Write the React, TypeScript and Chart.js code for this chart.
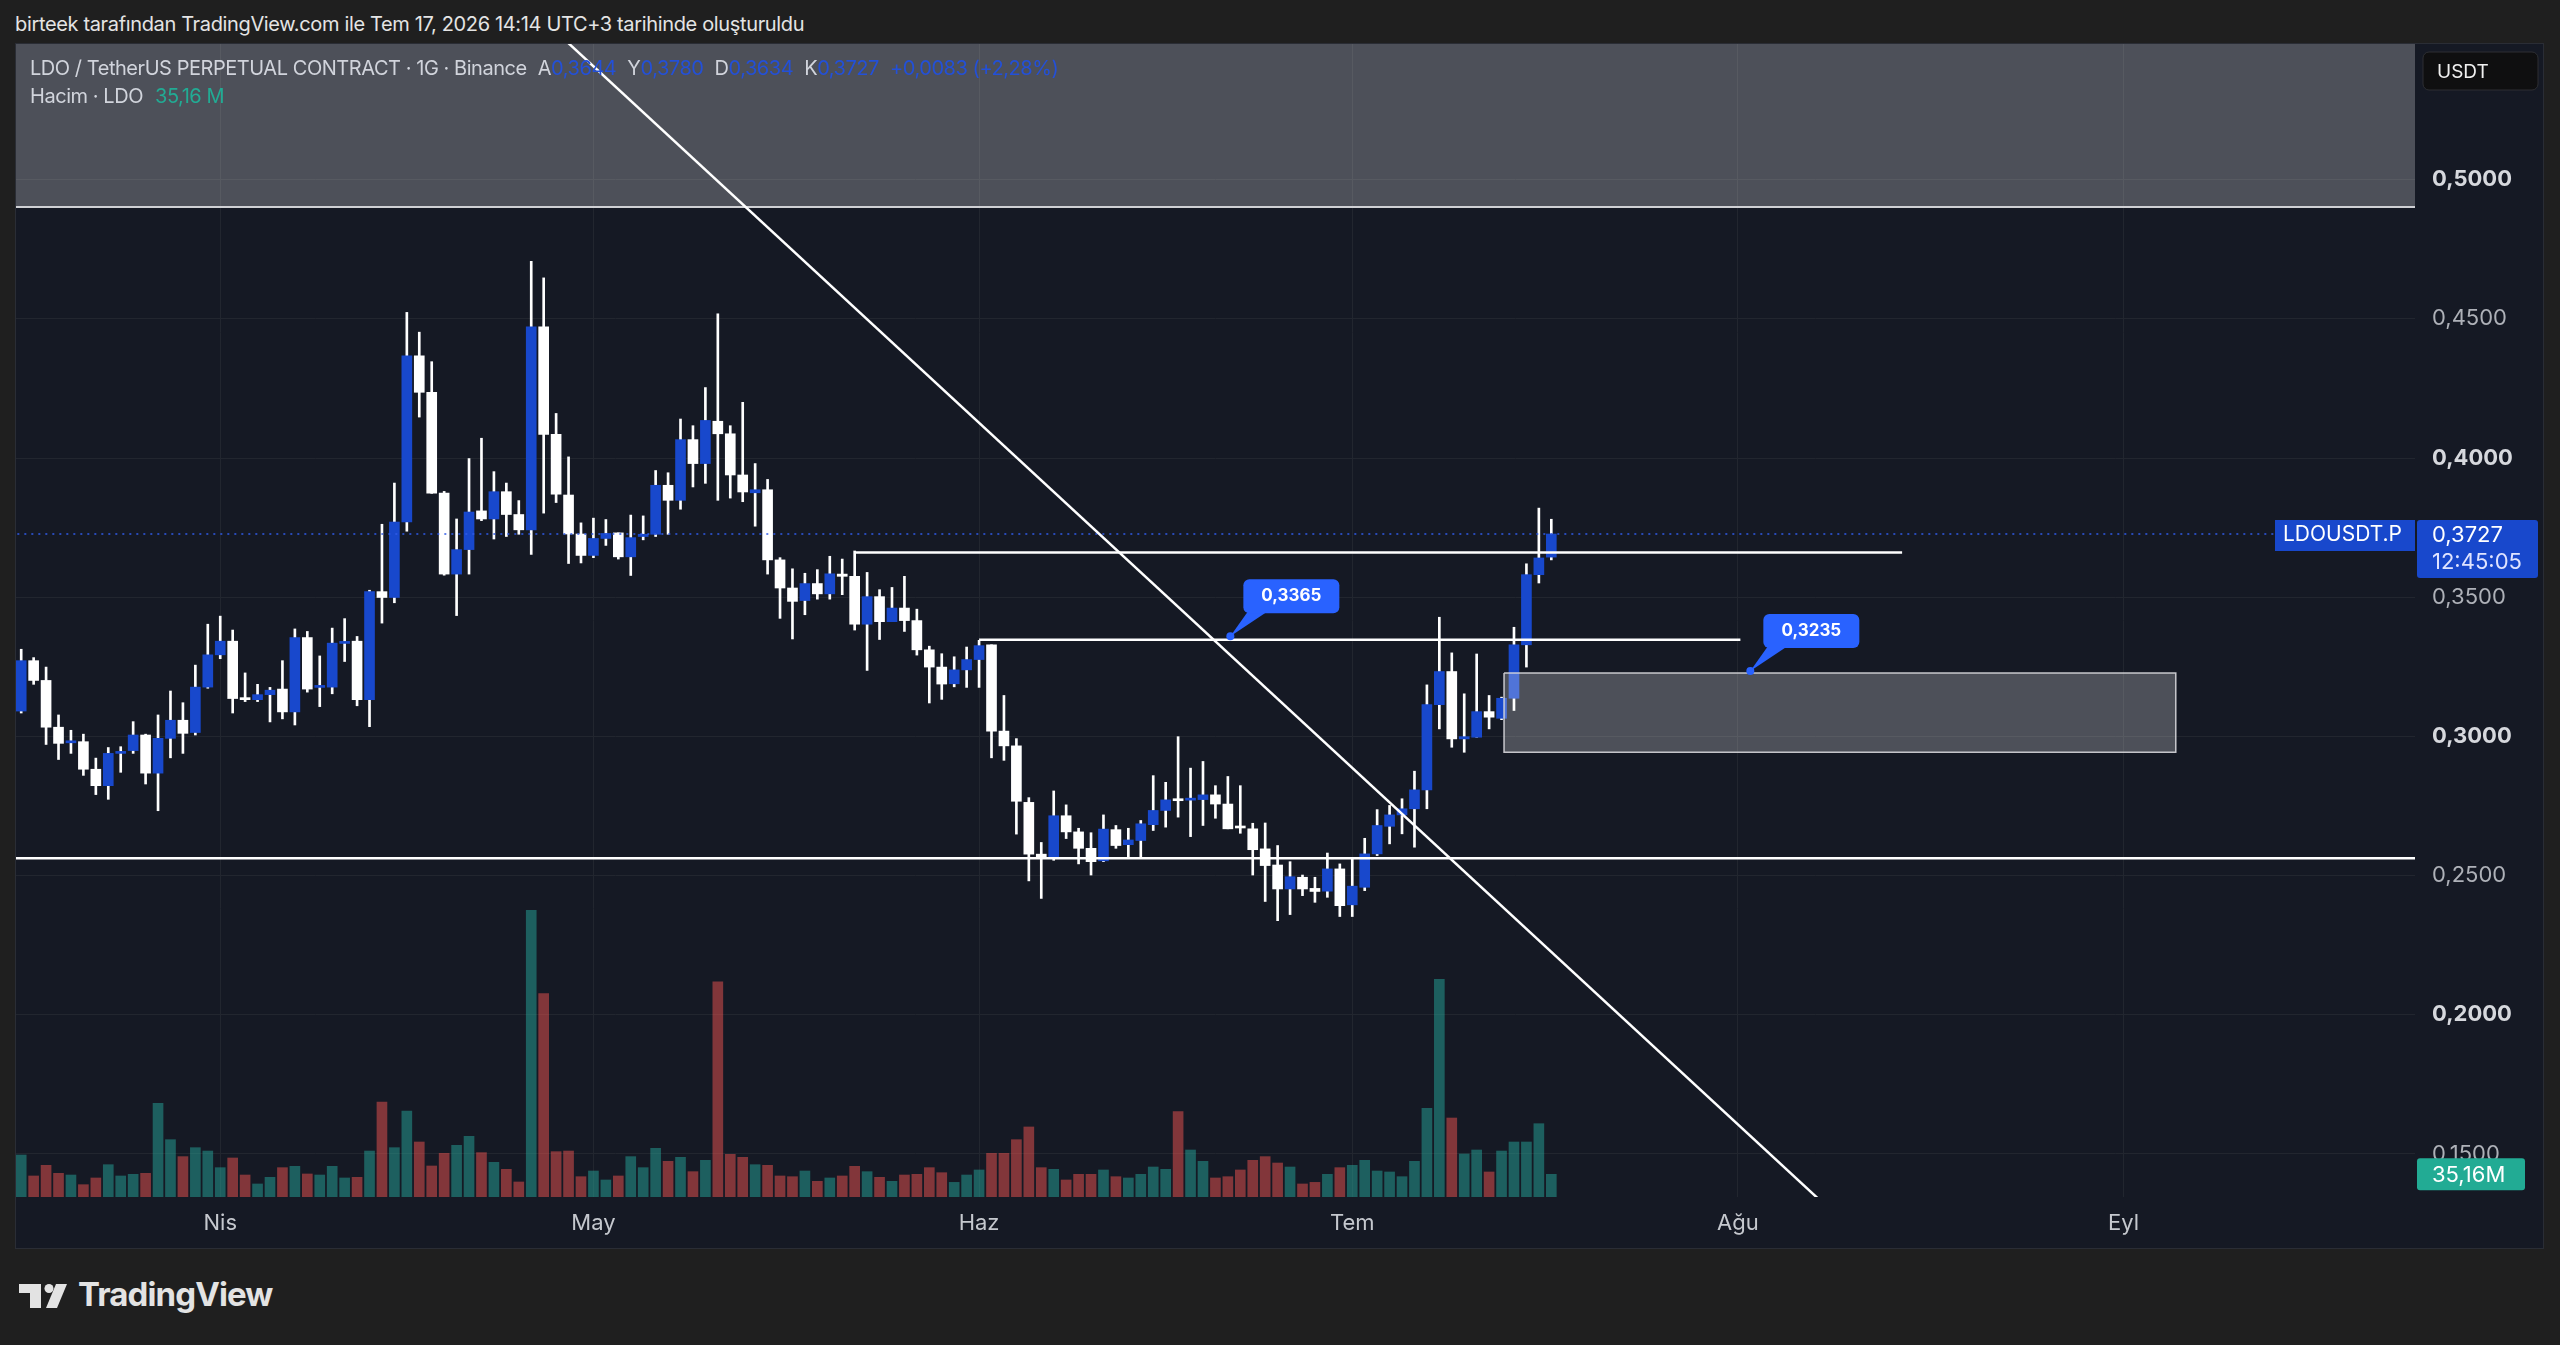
import React, { useEffect, useRef } from 'react';
import { Chart, registerables } from 'chart.js';

Chart.register(...registerables);

// ---- Daily candles (index 0 = 16 Mar 2026, index 123 = 17 Jul 2026) ----
const opens = [
  0.3091, 0.3272, 0.3201, 0.3033, 0.2977, 0.2981, 0.2882, 0.2823, 0.2939, 0.2949,
  0.3005, 0.2868, 0.2993, 0.3058, 0.3014, 0.3177, 0.3293, 0.3342, 0.3139, 0.3132,
  0.3150, 0.3170, 0.3088, 0.3355, 0.3176, 0.3177, 0.3334, 0.3342, 0.3132, 0.3520,
  0.3499, 0.3770, 0.4367, 0.4236, 0.3874, 0.3583, 0.3671, 0.3810, 0.3781, 0.3879,
  0.3797, 0.3742, 0.4471, 0.4085, 0.3867, 0.3727, 0.3650, 0.3711, 0.3731, 0.3645,
  0.3718, 0.3726, 0.3902, 0.3848, 0.4066, 0.3980, 0.4132, 0.4087, 0.3939, 0.3875,
  0.3886, 0.3634, 0.3533, 0.3488, 0.3549, 0.3512, 0.3583, 0.3575, 0.3403, 0.3502,
  0.3412, 0.3461, 0.3416, 0.3311, 0.3249, 0.3189, 0.3239, 0.3276, 0.3329, 0.3019,
  0.2966, 0.2763, 0.2577, 0.2563, 0.2715, 0.2657, 0.2598, 0.2553, 0.2665, 0.2611,
  0.2626, 0.2683, 0.2734, 0.2775, 0.2771, 0.2773, 0.2790, 0.2757, 0.2676, 0.2668,
  0.2596, 0.2538, 0.2452, 0.2494, 0.2454, 0.2444, 0.2524, 0.2395, 0.2458, 0.2578,
  0.2677, 0.2718, 0.2740, 0.2808, 0.3114, 0.3233, 0.2991, 0.2997, 0.3089, 0.3065,
  0.3137, 0.3329, 0.3581, 0.3644,
];
const highs = [
  0.3313, 0.3283, 0.3249, 0.3077, 0.3022, 0.3008, 0.2922, 0.2960, 0.2963, 0.3053,
  0.3008, 0.3077, 0.3163, 0.3121, 0.3256, 0.3403, 0.3432, 0.3382, 0.3228, 0.3187,
  0.3176, 0.3272, 0.3386, 0.3377, 0.3289, 0.3389, 0.3423, 0.3359, 0.3525, 0.3762,
  0.3910, 0.4523, 0.4452, 0.4346, 0.3880, 0.3781, 0.3998, 0.4071, 0.3951, 0.3910,
  0.3847, 0.4706, 0.4647, 0.4160, 0.4004, 0.3767, 0.3784, 0.3779, 0.3731, 0.3795,
  0.3792, 0.3955, 0.3947, 0.4140, 0.4116, 0.4253, 0.4518, 0.4116, 0.4200, 0.3980,
  0.3923, 0.3642, 0.3602, 0.3586, 0.3599, 0.3647, 0.3637, 0.3666, 0.3589, 0.3527,
  0.3535, 0.3575, 0.3457, 0.3324, 0.3297, 0.3286, 0.3321, 0.3345, 0.3329, 0.3147,
  0.2992, 0.2780, 0.2619, 0.2804, 0.2754, 0.2670, 0.2654, 0.2718, 0.2680, 0.2670,
  0.2698, 0.2859, 0.2835, 0.2999, 0.2886, 0.2910, 0.2823, 0.2856, 0.2823, 0.2688,
  0.2689, 0.2608, 0.2550, 0.2502, 0.2494, 0.2581, 0.2542, 0.2560, 0.2634, 0.2737,
  0.2752, 0.2776, 0.2875, 0.3185, 0.3428, 0.3300, 0.3153, 0.3296, 0.3147, 0.3141,
  0.3392, 0.3620, 0.3820, 0.3780,
];
const lows = [
  0.3084, 0.3187, 0.2971, 0.2917, 0.2939, 0.2860, 0.2791, 0.2774, 0.2871, 0.2939,
  0.2829, 0.2733, 0.2923, 0.2939, 0.3005, 0.3173, 0.3279, 0.3084, 0.3125, 0.3125,
  0.3052, 0.3063, 0.3041, 0.3159, 0.3107, 0.3153, 0.3269, 0.3110, 0.3035, 0.3407,
  0.3480, 0.3737, 0.4147, 0.3873, 0.3579, 0.3434, 0.3583, 0.3775, 0.3709, 0.3718,
  0.3726, 0.3654, 0.3802, 0.3840, 0.3621, 0.3623, 0.3642, 0.3686, 0.3637, 0.3578,
  0.3706, 0.3718, 0.3726, 0.3816, 0.3896, 0.3909, 0.3848, 0.3856, 0.3843, 0.3755,
  0.3583, 0.3424, 0.3350, 0.3437, 0.3493, 0.3493, 0.3509, 0.3382, 0.3237, 0.3348,
  0.3412, 0.3377, 0.3292, 0.3120, 0.3133, 0.3178, 0.3176, 0.3176, 0.2923, 0.2914,
  0.2649, 0.2481, 0.2418, 0.2555, 0.2633, 0.2542, 0.2502, 0.2550, 0.2598, 0.2566,
  0.2566, 0.2662, 0.2674, 0.2710, 0.2640, 0.2680, 0.2706, 0.2668, 0.2652, 0.2502,
  0.2407, 0.2338, 0.2360, 0.2428, 0.2404, 0.2422, 0.2353, 0.2353, 0.2446, 0.2572,
  0.2614, 0.2650, 0.2602, 0.2740, 0.3027, 0.2961, 0.2943, 0.2997, 0.3027, 0.3060,
  0.3093, 0.3249, 0.3551, 0.3634,
];
const closes = [
  0.3272, 0.3201, 0.3033, 0.2975, 0.2981, 0.2882, 0.2823, 0.2939, 0.2945, 0.3005,
  0.2868, 0.2993, 0.3058, 0.3011, 0.3177, 0.3293, 0.3342, 0.3136, 0.3132, 0.3150,
  0.3166, 0.3088, 0.3355, 0.3170, 0.3179, 0.3335, 0.3339, 0.3132, 0.3520, 0.3499,
  0.3770, 0.4367, 0.4236, 0.3874, 0.3583, 0.3671, 0.3806, 0.3781, 0.3879, 0.3797,
  0.3742, 0.4471, 0.4085, 0.3870, 0.3727, 0.3650, 0.3711, 0.3729, 0.3645, 0.3714,
  0.3726, 0.3902, 0.3848, 0.4066, 0.3980, 0.4135, 0.4087, 0.3939, 0.3878, 0.3886,
  0.3634, 0.3533, 0.3485, 0.3549, 0.3512, 0.3584, 0.3575, 0.3403, 0.3502, 0.3412,
  0.3461, 0.3416, 0.3311, 0.3249, 0.3188, 0.3239, 0.3276, 0.3326, 0.3019, 0.2966,
  0.2767, 0.2577, 0.2566, 0.2715, 0.2657, 0.2598, 0.2550, 0.2667, 0.2608, 0.2628,
  0.2686, 0.2734, 0.2772, 0.2769, 0.2775, 0.2790, 0.2757, 0.2668, 0.2671, 0.2593,
  0.2536, 0.2452, 0.2496, 0.2452, 0.2443, 0.2524, 0.2392, 0.2462, 0.2578, 0.2680,
  0.2718, 0.2740, 0.2808, 0.3114, 0.3233, 0.2991, 0.2999, 0.3089, 0.3069, 0.3137,
  0.3329, 0.3581, 0.3641, 0.3727,
];
// volume in millions LDO
const volumes = [
  65.1, 32.6, 49.1, 36.7, 34.1, 19.1, 29.5, 50.1, 32.6, 35.2,
  36.7, 145.3, 88.9, 62.6, 76.5, 71.3, 45.5, 60.5, 34.1, 20.2,
  30.5, 45.5, 47.6, 35.7, 34.1, 47.6, 29.5, 30.5, 71.3, 147.3,
  76.5, 133.4, 85.3, 48.1, 67.7, 80.1, 94.1, 68.8, 53.8, 42.9,
  23.3, 444.6, 315.4, 70.3, 71.3, 31.5, 40.3, 26.4, 32.6, 62.6,
  45.5, 75.5, 55.3, 61.5, 39.3, 56.9, 333.5, 66.2, 61.5, 50.1,
  49.1, 32.6, 31.5, 40.3, 24.3, 29.5, 32.6, 47.6, 39.3, 30.5,
  24.3, 34.1, 35.2, 45.5, 37.7, 22.7, 34.1, 41.9, 67.7, 67.7,
  88.9, 108.6, 45.5, 42.9, 26.4, 35.2, 35.2, 41.9, 31.5, 29.5,
  35.2, 46.5, 42.9, 132.4, 72.9, 55.3, 29.5, 31.5, 41.9, 56.9,
  62.6, 52.7, 46.5, 20.2, 22.7, 35.2, 45.5, 49.1, 56.9, 40.3,
  38.8, 31.5, 55.3, 137.5, 337.6, 122.5, 66.7, 72.9, 38.8, 71.3,
  85.3, 85.3, 113.7, 35.16,
];

// time axis: day index of each month start
const monthTicks = [16, 46, 77, 107, 138, 169];
const monthLabels = ['Nis', 'May', 'Haz', 'Tem', 'Ağu', 'Eyl'];
// price axis ticks
const priceTicks = [0.15, 0.2, 0.25, 0.3, 0.35, 0.4, 0.45, 0.5];

// drawings (day index / price)
const trendX = [40, 145];
const trendY = [0.5655, 0.1317];
const supportLevel = 0.2562;
const resistA = { x0: 67, x1: 151.2, y: 0.3661 };
const resistB = { x0: 77, x1: 138.2, y: 0.3347 };
const zoneBox = { x0: 119.2, x1: 173.2, top: 0.3228, bottom: 0.2943 };
const topZoneBottom = 0.4902;
const lastPrice = 0.3727;
const lastVolume = 35.16;
const callouts = [
  { x: 97.2, y: 0.336, text: '0,3365' },
  { x: 139.0, y: 0.3235, text: '0,3235' },
];

const X_MIN = -0.418;
const X_MAX = 192.43;
const Y_MIN = 0.13455;
const Y_MAX = 0.54871;
const V_MAX = 1788;

const UP = '#1848cc';
const DOWN = '#ffffff';
const VOL_UP = 'rgba(38,166,154,0.5)';
const VOL_DOWN = 'rgba(239,83,80,0.5)';
const GRID = '#22262f';
const FONT = 'Inter, "Noto Sans", sans-serif';

const fmt = (v: number) => v.toFixed(4).replace('.', ',');
const isMajor = (c: any) => !!(c && c.tick && Math.round(c.tick.value * 100) % 10 === 0);

export default function App() {
  const ref = useRef<HTMLCanvasElement | null>(null);

  useEffect(() => {
    const canvas = ref.current;
    if (!canvas) return;
    const isUp = closes.map((c, i) => c >= opens[i]);
    const rect = (x0: number, x1: number, y0: number, y1: number) => [
      { x: x0, y: y0 }, { x: x1, y: y0 }, { x: x1, y: y1 }, { x: x0, y: y1 }, { x: x0, y: y0 },
    ];
    const lineDs = (data: any[], color: string, width: number, order: number, extra: any = {}) => ({
      type: 'line',
      data,
      borderColor: color,
      borderWidth: width,
      pointRadius: 0,
      tension: 0,
      fill: false,
      order,
      yAxisID: 'y',
      ...extra,
    });

    const rr = (ctx: CanvasRenderingContext2D, x: number, y: number, w: number, h: number, r: number) => {
      ctx.beginPath();
      ctx.moveTo(x + r, y);
      ctx.lineTo(x + w - r, y);
      ctx.arcTo(x + w, y, x + w, y + r, r);
      ctx.lineTo(x + w, y + h - r);
      ctx.arcTo(x + w, y + h, x + w - r, y + h, r);
      ctx.lineTo(x + r, y + h);
      ctx.arcTo(x, y + h, x, y + h - r, r);
      ctx.lineTo(x, y + r);
      ctx.arcTo(x, y, x + r, y, r);
      ctx.closePath();
    };

    const overlay = {
      id: 'overlay',
      afterDraw(chart: any) {
        const ctx: CanvasRenderingContext2D = chart.ctx;
        const xs = chart.scales.x;
        const ys = chart.scales.y;
        const vs = chart.scales.yv;
        const area = chart.chartArea;
        ctx.save();
        callouts.forEach((c) => {
          const px = xs.getPixelForValue(c.x);
          const py = ys.getPixelForValue(c.y);
          ctx.fillStyle = '#2962ff';
          ctx.beginPath();
          ctx.arc(px, py, 4, 0, Math.PI * 2);
          ctx.fill();
          ctx.beginPath();
          ctx.moveTo(px, py);
          ctx.lineTo(px + 17, py - 24);
          ctx.lineTo(px + 36, py - 24);
          ctx.closePath();
          ctx.fill();
          rr(ctx, px + 13, py - 57, 96, 34, 6);
          ctx.fill();
          ctx.fillStyle = '#ffffff';
          ctx.font = `700 17px ${FONT}`;
          ctx.textAlign = 'center';
          ctx.textBaseline = 'middle';
          ctx.fillText(c.text, px + 61, py - 40);
        });
        const lp = ys.getPixelForValue(lastPrice);
        ctx.fillStyle = UP;
        ctx.fillRect(area.right - 140, lp - 14, 140, 31);
        rr(ctx, area.right + 2, lp - 14, 121, 58, 3);
        ctx.fill();
        ctx.fillStyle = '#ffffff';
        ctx.textAlign = 'left';
        ctx.textBaseline = 'middle';
        ctx.font = `400 21px ${FONT}`;
        ctx.fillText('LDOUSDT.P', area.right - 132, lp + 1);
        ctx.font = `400 22px ${FONT}`;
        ctx.fillText(fmt(lastPrice), area.right + 17, lp + 1);
        ctx.fillStyle = '#dfe3ff';
        ctx.fillText('12:45:05', area.right + 17, lp + 28);
        const vp = vs.getPixelForValue(lastVolume);
        ctx.fillStyle = '#22ab94';
        rr(ctx, area.right + 2, vp - 16, 108, 32, 3);
        ctx.fill();
        ctx.fillStyle = '#ffffff';
        ctx.fillText(lastVolume.toFixed(2).replace('.', ',') + 'M', area.right + 17, vp + 1);
        ctx.fillStyle = '#0f0f10';
        rr(ctx, area.right + 8, 8, 115, 38, 6);
        ctx.fill();
        ctx.strokeStyle = '#2e2f33';
        ctx.lineWidth = 1;
        ctx.stroke();
        ctx.fillStyle = '#f0f0f0';
        ctx.font = `400 19px ${FONT}`;
        ctx.fillText('USDT', area.right + 22, 28);
        ctx.restore();
      },
    };

    let chart: any = null;
    try {
      chart = new Chart(canvas, {
        type: 'bar',
        data: {
          datasets: [
            {
              type: 'bar',
              label: 'volume',
              yAxisID: 'yv',
              data: volumes.map((v, i) => ({ x: i, y: v })),
              backgroundColor: isUp.map((u) => (u ? VOL_UP : VOL_DOWN)),
              barThickness: 10,
              grouped: false,
              order: 20,
            },
            lineDs(rect(-2, 195, topZoneBottom, 0.7), 'rgba(0,0,0,0)', 0, 19, {
              fill: 'shape',
              backgroundColor: 'rgba(255,255,255,0.245)',
            }),
            {
              type: 'bar',
              label: 'wicks',
              yAxisID: 'y',
              data: lows.map((l, i) => ({ x: i, y: [l, highs[i]] })),
              backgroundColor: '#ffffff',
              barThickness: 2,
              grouped: false,
              order: 18,
            },
            {
              type: 'bar',
              label: 'bodies',
              yAxisID: 'y',
              data: opens.map((o, i) => ({ x: i, y: [o, closes[i]] })),
              backgroundColor: isUp.map((u) => (u ? UP : DOWN)),
              barThickness: 10,
              minBarLength: 2,
              grouped: false,
              order: 17,
            },
            lineDs(rect(zoneBox.x0, zoneBox.x1, zoneBox.top, zoneBox.bottom), 'rgba(215,215,220,0.9)', 1.5, 16, {
              fill: 'shape',
              backgroundColor: 'rgba(255,255,255,0.245)',
            }),
            lineDs([{ x: -2, y: topZoneBottom }, { x: 195, y: topZoneBottom }], '#cfd0d4', 2, 15),
            lineDs([{ x: -2, y: lastPrice }, { x: 195, y: lastPrice }], '#2f5be8', 1.5, 14, { borderDash: [2, 5] }),
            lineDs([{ x: -2, y: supportLevel }, { x: 195, y: supportLevel }], '#ffffff', 2.5, 5),
            lineDs([{ x: resistA.x0, y: resistA.y }, { x: resistA.x1, y: resistA.y }], '#ffffff', 2.5, 4),
            lineDs([{ x: resistB.x0, y: resistB.y }, { x: resistB.x1, y: resistB.y }], '#ffffff', 2.5, 3),
            lineDs(trendX.map((x, i) => ({ x, y: trendY[i] })), '#ffffff', 2.5, 2),
          ] as any,
        },
        options: {
          responsive: false,
          animation: false,
          devicePixelRatio: 1,
          events: [],
          layout: { padding: 0 },
          plugins: { legend: { display: false }, tooltip: { enabled: false } },
          scales: {
            x: {
              type: 'linear',
              min: X_MIN,
              max: X_MAX,
              offset: false,
              grid: { color: GRID, lineWidth: 1, drawTicks: false, offset: false },
              border: { display: false },
              ticks: {
                padding: 13,
                color: '#c5c8ce',
                font: { family: FONT, size: 22 },
                autoSkip: false,
                maxRotation: 0,
                callback: (v: any) => {
                  const k = monthTicks.indexOf(Number(v));
                  return k >= 0 ? monthLabels[k] : '';
                },
              },
              afterBuildTicks: (s: any) => {
                s.ticks = monthTicks.map((v) => ({ value: v }));
              },
              afterFit: (s: any) => {
                s.height = 51;
                s.paddingLeft = 0;
                s.paddingRight = 0;
                s.paddingTop = 0;
                s.paddingBottom = 0;
              },
            },
            y: {
              type: 'linear',
              position: 'right',
              min: Y_MIN,
              max: Y_MAX,
              grid: { color: GRID, lineWidth: 1, drawTicks: false },
              border: { display: false },
              ticks: {
                padding: 17,
                color: (c: any) => (isMajor(c) ? '#d6d8dd' : '#aeb1b8'),
                font: (c: any) => ({
                  family: FONT,
                  size: 22,
                  weight: isMajor(c) ? '700' : '400',
                }),
                callback: (v: any) => fmt(Number(v)),
              },
              afterBuildTicks: (s: any) => {
                s.ticks = priceTicks.map((v) => ({ value: v }));
              },
              afterFit: (s: any) => {
                s.width = 128;
                s.paddingTop = 0;
                s.paddingBottom = 0;
                s.paddingLeft = 0;
                s.paddingRight = 0;
              },
            },
            yv: {
              type: 'linear',
              display: false,
              min: 0,
              max: V_MAX,
            },
          },
        } as any,
        plugins: [overlay],
      });
    } catch (e) {
      console.error(e);
    }
    return () => {
      if (chart) chart.destroy();
    };
  }, []);

  const legendStyle: React.CSSProperties = {
    position: 'absolute',
    left: 14,
    fontSize: 20,
    lineHeight: '24px',
    color: '#d1d4dc',
    whiteSpace: 'nowrap',
    fontFamily: FONT,
  };
  const blue = { color: '#2350d8' };

  return (
    <div
      style={{
        position: 'fixed',
        left: 0,
        top: 0,
        width: 2560,
        height: 1345,
        background: '#1f1f1f',
        overflow: 'hidden',
        fontFamily: FONT,
      }}
    >
      <div
        style={{
          position: 'absolute',
          left: 15,
          top: 12,
          fontSize: 20,
          lineHeight: '24px',
          color: '#e4e4e4',
          whiteSpace: 'nowrap',
          letterSpacing: -0.35,
        }}
      >
        birteek tarafından TradingView.com ile Tem 17, 2026 14:14 UTC+3 tarihinde oluşturuldu
      </div>
      <div
        style={{
          position: 'absolute',
          left: 15,
          top: 43,
          width: 2529,
          height: 1206,
          boxSizing: 'border-box',
          border: '1px solid #2a2d35',
          background: '#151924',
        }}
      >
        <canvas ref={ref} width={2527} height={1204} style={{ display: 'block', width: 2527, height: 1204 }} />
        <div style={{ ...legendStyle, top: 12, letterSpacing: -0.45 }}>
          <span>LDO / TetherUS PERPETUAL CONTRACT · 1G · Binance</span>
          <span style={{ marginLeft: 11 }}>A</span>
          <span style={blue}>0,3644</span>
          <span style={{ marginLeft: 11 }}>Y</span>
          <span style={blue}>0,3780</span>
          <span style={{ marginLeft: 11 }}>D</span>
          <span style={blue}>0,3634</span>
          <span style={{ marginLeft: 11 }}>K</span>
          <span style={blue}>0,3727</span>
          <span style={{ ...blue, marginLeft: 11 }}>+0,0083 (+2,28%)</span>
        </div>
        <div style={{ ...legendStyle, top: 40, letterSpacing: -0.45 }}>
          <span>Hacim · LDO</span>
          <span style={{ marginLeft: 12, color: '#22ab94' }}>35,16 M</span>
        </div>
      </div>
      <svg
        width={48}
        height={24}
        viewBox="0 0 48 24"
        style={{ position: 'absolute', left: 19, top: 1284 }}
      >
        <path d="M0 0 H22 V24 H11 V9 H0 Z" fill="#e3e3e3" />
        <circle cx={30} cy={4.5} r={4.5} fill="#e3e3e3" />
        <path d="M37 0 H48 L38 24 H27 Z" fill="#e3e3e3" />
      </svg>
      <div
        style={{
          position: 'absolute',
          left: 78,
          top: 1278,
          fontSize: 33,
          lineHeight: '33px',
          fontWeight: 700,
          color: '#e3e3e3',
          letterSpacing: -0.9,
          whiteSpace: 'nowrap',
        }}
      >
        TradingView
      </div>
    </div>
  );
}
